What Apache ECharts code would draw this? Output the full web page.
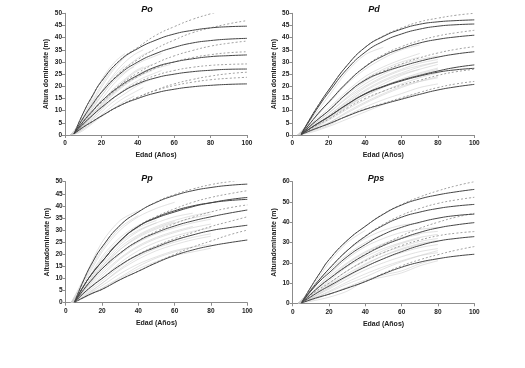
<!DOCTYPE html>
<html>
<head>
<meta charset="utf-8">
<script src="https://cdn.jsdelivr.net/npm/echarts@6/dist/echarts.min.js"></script>
<style>html,body{margin:0;padding:0;background:#fff}#c{width:525px;height:368px}</style>
</head>
<body>
<div id="c"></div>
<script>
// ---------- data ----------
const panelTitles = ['Po', 'Pd', 'Pp', 'Pps'];
const yNames = ['Altura dominante (m)', 'Altura dominante (m)', 'Alturadominante (m)', 'Alturadominante (m)'];
const xName = 'Edad (Años)';
const yMax = [50, 50, 50, 60];
const yStep = [5, 5, 5, 10];

// model curve ages
const curveAges = [5, 10, 15, 20, 30, 40, 50, 60, 70, 80, 90, 100];

// Po
const poSolid = [
  [0.5, 9, 16, 22, 30.5, 35.5, 39, 41.5, 43, 44, 44.5, 44.7],
  [0.5, 7, 12.5, 17.5, 25, 30, 33.5, 36, 37.8, 38.8, 39.4, 39.7],
  [0.5, 5.5, 9.8, 13.8, 20, 24.5, 28, 30, 31.3, 32.2, 32.6, 32.9],
  [0.5, 4.5, 8, 11.3, 17, 21, 23.5, 25, 26, 26.6, 27, 27.1],
  [0.5, 3.2, 5.5, 7.8, 12, 15, 17.3, 18.8, 19.8, 20.4, 20.8, 21]
];
const poDashed = [
  [0.5, 9, 16, 22, 30.7, 36, 41, 44.5, 47.5, 49.8, 52, 54],
  [0.5, 7, 12.5, 17.5, 25.5, 31, 35.5, 39, 42, 44, 45.7, 47],
  [0.5, 5.5, 9.8, 13.8, 20.5, 25.5, 29.5, 32.5, 34.7, 36.5, 37.7, 38.6],
  [0.5, 5.3, 9.5, 13.3, 19.5, 24, 27.5, 30, 31.8, 33, 33.8, 34.2],
  [0.5, 4.5, 8, 11.3, 17, 21.5, 24.5, 26.5, 27.8, 28.6, 29, 29.2],
  [0.5, 3.2, 5.5, 7.8, 12, 15.5, 18.5, 21, 22.8, 24.2, 25.2, 25.8],
  [0.5, 3.2, 5.5, 7.8, 12, 15.5, 18.3, 20.3, 21.7, 22.7, 23.3, 23.7]
];
const poObsAges = [3, 8, 13, 18, 23, 28, 33, 38, 43, 48, 53, 58];
const poObs = [
  [0, 5, 12, 20, 26, 30.5, 33.5],
  [0, 4, 10.5, 17, 23, 28, 32, 35],
  [0, 3.5, 9.5, 15, 21, 26, 30, 33, 35],
  [0, 3, 8.5, 14, 19, 24, 27.5, 30.5, 33, 34.5],
  [0, 2.5, 7.5, 12.5, 17.5, 22, 25.5, 28.5, 30.5, 32, 33.5],
  [0, 2.5, 7.5, 12, 16, 20, 23, 26, 28],
  [0, 2, 6.5, 11, 15, 18.5, 21.5, 24, 26, 27.5, 29],
  [0, 2, 6, 10, 14, 17.5, 20.5, 23, 25, 26.5],
  [0, 2, 5.5, 9, 12.5, 16, 19, 21.5, 23.5, 25, 26.5],
  [0, 1.5, 5, 8, 11.5, 14.5, 17, 19.5, 21.5, 23],
  [0, 1.5, 4, 7, 10, 13, 15.5, 17.5, 19.5],
  [0, 1, 3.5, 6.5, 9, 11.5, 14, 16],
  [0, 3, 9.5, 15.5, 21, 25, 28.5],
  [0, 4, 11, 18, 24, 28.5],
  [0, 2.5, 7, 11, 15, 19, 22.5, 25.5, 27.5, 29],
  [0, 3, 8.5, 14, 19, 23, 26, 28],
  [0, 2, 6.5, 10.5, 14.5, 18, 21, 23.5, 25.5, 27, 28, 29],
  [0, 1.5, 5, 9, 13, 16, 18.5, 20.5, 22]
];

// Pd
const pdSolid = [
  [0.5, 7, 13, 18.5, 28.5, 36, 40.5, 43.5, 45.5, 46.5, 47, 47.3],
  [0.5, 6.5, 12.3, 17.5, 27, 34, 38.5, 41.5, 43.5, 44.7, 45.3, 45.6],
  [0.3, 5, 9.5, 13.5, 21.5, 28, 32.5, 35.5, 37.8, 39.3, 40.3, 41],
  [0.3, 3.8, 7, 10, 17, 22.5, 25.8, 28.2, 30.3, 32, 33.3, 34.2],
  [0.3, 2.8, 5.2, 7.5, 12.5, 17, 20, 22.5, 24.5, 26.3, 27.8, 28.8],
  [0.3, 2.8, 5.2, 7.5, 12.5, 16.8, 19.8, 22.2, 24.2, 25.8, 26.8, 27.4],
  [0.2, 1.8, 3.2, 4.6, 7.7, 10.5, 12.7, 14.7, 16.7, 18.5, 19.8, 20.8]
];
const pdDashed = [
  [0.5, 7, 13, 18.5, 28.5, 36, 40.7, 44, 46.5, 48, 49.2, 50],
  [0.3, 5, 9.5, 13.5, 21.5, 28.2, 33, 36.3, 38.8, 40.7, 42, 43],
  [0.3, 3.8, 7, 10, 17, 22.7, 26.3, 29.2, 31.7, 33.7, 35.2, 36.3],
  [0.3, 2.5, 4.6, 6.5, 11, 15, 18, 20.5, 22.5, 24.5, 26, 27],
  [0.2, 1.8, 3.2, 4.6, 7.8, 10.7, 13, 15.3, 17.5, 19.5, 21, 22]
];
const obsAges = [3, 10, 20, 30, 40, 50, 60, 70, 80];
const pdObs = [
  [0, 6, 16, 26, 33, 36],
  [0, 5, 13, 21, 27, 31.5, 35, 37],
  [0, 4.5, 11, 18, 24, 28, 31, 33.5],
  [0, 4, 10, 16.5, 22, 26, 29, 31, 32.5],
  [0, 3.5, 9, 15, 20, 24, 27, 29.5, 31],
  [0, 3, 8, 13.5, 18.5, 22.5, 25.5, 28, 30],
  [0, 2.5, 7, 12, 17, 21, 24.5, 27, 29],
  [0, 2.5, 7, 12, 16, 19.5, 22.5, 25, 27],
  [0, 2, 6, 10.5, 14.5, 18, 21, 23.5, 25.5],
  [0, 2, 5, 9, 13, 16.5, 19.5, 22, 24],
  [0, 1.5, 4, 8, 11.5, 14.5, 17, 19.5, 21],
  [0, 1, 3.5, 6.5, 9.5, 12.5, 15, 17.5],
  [0, 4, 10, 17, 23, 27, 30, 32],
  [0, 3, 8, 14, 19.5, 23.5, 26.5, 28.5, 30],
  [0, 3, 7.5, 13, 18, 22, 25, 27],
  [0, 2, 6.5, 11.5, 16, 20, 23, 25.5, 27.5],
  [0, 3.5, 9, 15.5, 21, 25, 28.5],
  [0, 1.5, 5, 9.5, 13.5, 17, 20, 22, 23.5]
];

// Pp
const ppSolid = [
  [0.5, 9.5, 17, 23, 32, 37.5, 41.5, 44.3, 46.3, 47.6, 48.5, 49],
  [0.4, 7, 12.5, 17, 25.5, 31.5, 35, 37.5, 39.7, 41.3, 42.6, 43.5],
  [0.4, 7, 12.5, 17, 25.5, 31.5, 35.3, 38, 40, 41.3, 42.2, 42.7],
  [0.3, 5.5, 10, 14, 20.5, 25.5, 29, 31.7, 33.8, 35.5, 37, 38.3],
  [0.3, 4, 7.2, 10, 15.5, 19.8, 23, 25.8, 28, 29.8, 31, 32],
  [0.2, 2.2, 4, 5.5, 9.5, 13, 16.5, 19.5, 21.8, 23.5, 24.8, 25.9]
];
const ppDashed = [
  [0.5, 9.5, 17, 23, 32, 37.5, 41.7, 44.7, 47, 48.8, 50, 51],
  [0.4, 7, 12.5, 17, 25.5, 31.7, 35.7, 38.8, 41.5, 43.5, 45, 46.3],
  [0.3, 5.5, 10, 14, 20.5, 25.7, 29.5, 32.7, 35.3, 37.5, 39.2, 40.4],
  [0.3, 4, 7.2, 10, 15.5, 20, 23.5, 26.5, 29, 31.5, 33.5, 35.5],
  [0.2, 2.2, 4, 5.5, 9.5, 13, 16.7, 20, 23, 25.5, 28, 30]
];
const ppObs = [
  [0, 10, 25, 34, 38],
  [0, 8, 21, 30, 35.5, 39, 41.5],
  [0, 7, 19, 27, 32, 35, 37.5, 39.5],
  [0, 6, 16, 24, 29.5, 33, 35.5, 37],
  [0, 5.5, 15, 22, 27, 30.5, 33, 35, 36.5],
  [0, 5, 13, 20, 25, 28.5, 31, 33, 34.5],
  [0, 4.5, 12, 18.5, 23.5, 27, 29.5, 31.5],
  [0, 4, 10, 16.5, 21.5, 25, 27.5, 29.5, 31],
  [0, 3.5, 9, 15, 20, 23.5, 26, 28],
  [0, 3, 8, 13.5, 18, 21.5, 24, 26, 27.5],
  [0, 2.5, 7, 12, 16, 19, 21.5, 23],
  [0, 2, 6, 10, 14, 17, 19.5, 21, 22.5],
  [0, 9, 22, 31, 36],
  [0, 7, 18, 26, 31, 34],
  [0, 5, 14, 22, 27.5, 31, 33.5],
  [0, 4, 11, 18, 23, 26.5, 29, 31, 32.5],
  [0, 2.5, 8, 14, 19, 22.5, 25, 27, 28.5],
  [0, 5.5, 15, 23, 28, 31.5, 34, 36, 37.5],
  [0, 2, 6, 10.5, 15, 18.5, 21, 23, 24],
  [0, 6, 17, 25, 30, 33]
];

// Pps
const ppsSolid = [
  [0.5, 8, 15, 21.5, 31, 38, 44, 48.5, 51.5, 53.5, 55, 56.2],
  [0.4, 6.5, 12, 17, 26, 33, 38.5, 42.5, 45, 46.8, 48, 48.8],
  [0.4, 6, 11, 15, 23, 29, 34, 37.5, 40, 42, 43.3, 44],
  [0.3, 4.5, 8.5, 12, 18.5, 24, 28.5, 32, 35, 37.2, 38.7, 39.8],
  [0.3, 3.2, 6, 8.5, 13.5, 18, 22, 25.5, 28.5, 30.7, 32, 32.9],
  [0.2, 1.8, 3.2, 4.5, 7.5, 10.7, 14.5, 17.8, 20.3, 22, 23.3, 24.2]
];
const ppsDashed = [
  [0.5, 8, 15, 21.5, 31, 38, 44.2, 48.8, 52.5, 55.5, 58, 60],
  [0.4, 6.5, 12, 17, 26, 33.2, 39, 43.5, 46.8, 49.3, 51, 52.3],
  [0.3, 4.5, 8.5, 12, 18.5, 24.2, 29, 33.3, 37, 40, 42.5, 44.4],
  [0.3, 4, 7.2, 10, 16, 21, 25, 28.5, 31.2, 33.3, 34.6, 35.4],
  [0.2, 1.8, 3.2, 4.5, 7.5, 10.8, 14.8, 18.5, 21.5, 24, 26.2, 28]
];
const ppsObs = [
  [0, 7, 20, 30, 36],
  [0, 6, 17, 26, 32, 36, 38.5, 39.5],
  [0, 5, 14, 22, 28, 32, 35, 36.5, 37.5],
  [0, 4.5, 13, 20, 25.5, 29.5, 32.5, 34.5, 35.5],
  [0, 4, 11, 18, 23, 27, 30, 32.5, 34],
  [0, 3.5, 10, 16, 21, 25, 28, 30.5, 32],
  [0, 3, 9, 14.5, 19.5, 23.5, 26.5, 29, 30.5],
  [0, 2.5, 8, 13, 18, 22, 25, 27.5, 29],
  [0, 2.5, 7, 12, 16.5, 20, 23, 25.5, 27],
  [0, 2, 6, 10.5, 14.5, 18, 21, 23.5, 25],
  [0, 1.5, 4.5, 8, 11.5, 14, 16, 19.5, 22],
  [0, 1, 3, 6, 11, 13, 15, 18.5, 21],
  [0, 4.5, 12, 19.5, 25, 29, 32, 34],
  [0, 3.5, 9.5, 16, 21.5, 26, 29.5, 32],
  [0, 2.5, 7.5, 13.5, 19, 23.5, 27, 29.5, 31],
  [0, 6, 16, 24, 30, 34],
  [0, 2, 5.5, 9.5, 13, 17, 20.5, 23.5, 26]
];

// ---------- chart ----------
const panels = [
  { solid: poSolid, dashed: poDashed, obs: poObs, obsX: poObsAges },
  { solid: pdSolid, dashed: pdDashed, obs: pdObs, obsX: obsAges },
  { solid: ppSolid, dashed: ppDashed, obs: ppObs, obsX: obsAges },
  { solid: ppsSolid, dashed: ppsDashed, obs: ppsObs, obsX: obsAges }
];
const grids = [
  { left: 65, top: 13.3, width: 182, height: 121.7 },
  { left: 292.3, top: 13.3, width: 182, height: 121.7 },
  { left: 65.7, top: 181.7, width: 181.6, height: 121 },
  { left: 292.7, top: 181.7, width: 181.6, height: 121.6 }
];
const titlePos = [[147, 10], [374, 10], [147, 179], [376, 179]];
const FONT = 'Liberation Sans, Arial, sans-serif';
const axisCol = '#8c8c8c';

function pairs(xs, ys) { return ys.map((v, i) => [xs[i], v]); }

const xAxes = [], yAxes = [], series = [], graphics = [];
panels.forEach((p, k) => {
  xAxes.push({
    type: 'value', gridIndex: k, min: 0, max: 100, interval: 20,
    name: xName, nameLocation: 'middle', nameGap: 17,
    nameTextStyle: { fontFamily: FONT, fontSize: 7, fontWeight: 'bold', color: '#222' },
    axisLine: { show: true, lineStyle: { color: axisCol, width: 1 } },
    axisTick: { show: true, length: 3, lineStyle: { color: axisCol } },
    axisLabel: { fontFamily: FONT, fontSize: 6.5, fontWeight: 'bold', color: '#222', margin: 5 },
    splitLine: { show: false }
  });
  yAxes.push({
    type: 'value', gridIndex: k, min: 0, max: yMax[k], interval: yStep[k],
    name: yNames[k], nameLocation: 'middle', nameGap: 15,
    nameTextStyle: { fontFamily: FONT, fontSize: 7, fontWeight: 'bold', color: '#222' },
    axisLine: { show: true, lineStyle: { color: axisCol, width: 1 } },
    axisTick: { show: true, length: 3, lineStyle: { color: axisCol } },
    axisLabel: { fontFamily: FONT, fontSize: 6.5, fontWeight: 'bold', color: '#222', margin: 3 },
    splitLine: { show: false }
  });
  p.obs.forEach(ys => series.push({
    type: 'line', xAxisIndex: k, yAxisIndex: k, data: pairs(p.obsX, ys),
    showSymbol: false, symbol: 'none', smooth: 0.3, silent: true, z: 1,
    lineStyle: { color: '#cfcfcf', width: 0.6 }
  }));
  p.dashed.forEach(ys => series.push({
    type: 'line', xAxisIndex: k, yAxisIndex: k, data: pairs(curveAges, ys),
    showSymbol: false, symbol: 'none', smooth: 0.5, silent: true, z: 2, clip: true,
    lineStyle: { color: '#8a8a8a', width: 0.8, type: [2, 2] }
  }));
  p.solid.forEach(ys => series.push({
    type: 'line', xAxisIndex: k, yAxisIndex: k, data: pairs(curveAges, ys),
    showSymbol: false, symbol: 'none', smooth: 0.5, silent: true, z: 3, clip: true,
    lineStyle: { color: '#454545', width: 1 }
  }));
  graphics.push({
    type: 'text', x: titlePos[k][0], y: titlePos[k][1], z: 10,
    style: { text: panelTitles[k], fill: '#111', textAlign: 'center', textVerticalAlign: 'middle',
      font: 'italic bold 9px ' + FONT }
  });
});

const chart = echarts.init(document.getElementById('c'), null, { renderer: 'canvas' });
chart.setOption({
  animation: false,
  backgroundColor: '#fff',
  grid: grids,
  xAxis: xAxes,
  yAxis: yAxes,
  series: series,
  graphic: graphics
});
</script>
</body>
</html>
